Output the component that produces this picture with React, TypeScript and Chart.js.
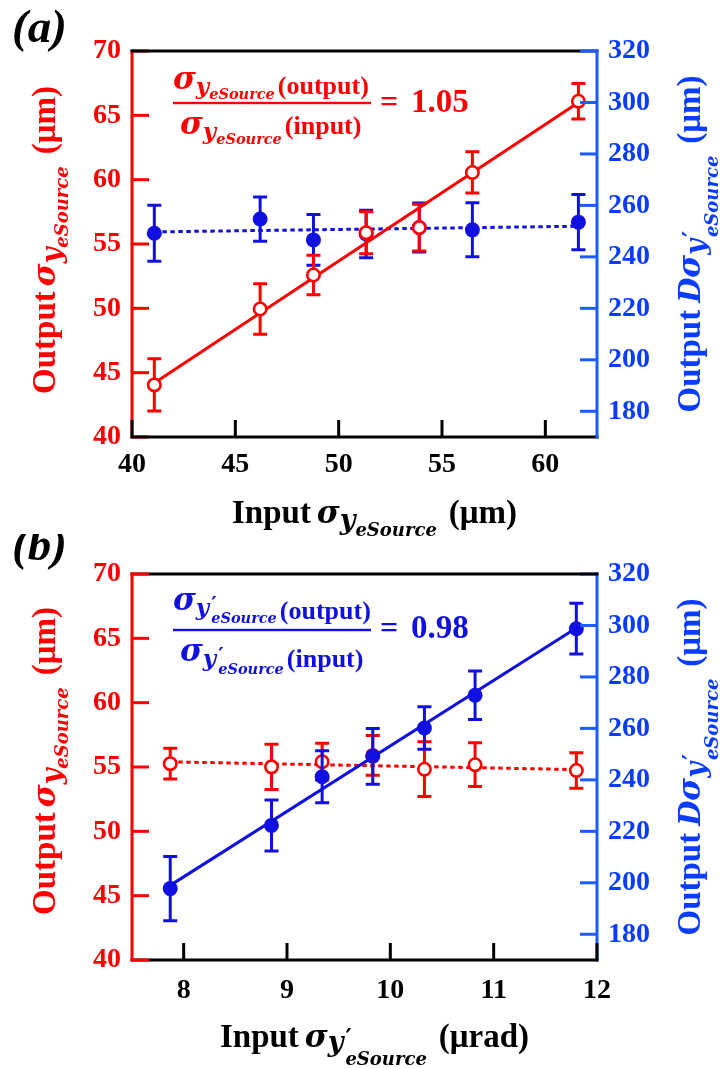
import React, { useEffect, useRef } from "react";
import { Chart, registerables } from "chart.js";

Chart.register(...registerables);

// ---------------- data: panel (a) ----------------
const inputA = [41.08, 46.2, 48.78, 51.33, 53.9, 56.47, 61.6];
const outSigmaA = [44.05, 49.95, 52.59, 55.88, 56.27, 60.56, 66.1];
const outSigmaErrA = [2.03, 1.97, 1.53, 1.63, 1.82, 1.6, 1.38];
const outDivA = [249.2, 254.7, 246.6, 248.9, 251.4, 250.5, 253.5];
const outDivErrA = [10.9, 8.6, 9.9, 9.2, 9.5, 10.5, 10.7];
const fitXA = [41.08, 61.6];
const fitSigmaA = [44.2, 66.0];
const fitDivA = [249.7, 251.9];
const xTicksA = [40, 45, 50, 55, 60];
const ratioA = "1.05";

// ---------------- data: panel (b) ----------------
const inputB = [7.87, 8.85, 9.34, 9.83, 10.33, 10.82, 11.8];
const outSigmaB = [55.26, 55.01, 55.41, 55.9, 54.83, 55.18, 54.73];
const outSigmaErrB = [1.2, 1.75, 1.43, 1.55, 2.13, 1.7, 1.38];
const outDivB = [197.75, 222.3, 241.2, 249.15, 260.15, 272.9, 298.75];
const outDivErrB = [12.45, 9.9, 10.1, 10.85, 8.25, 9.4, 9.85];
const fitXB = [7.87, 11.8];
const fitSigmaB = [55.4, 54.8];
const fitDivB = [199, 299];
const xTicksB = [8, 9, 10, 11, 12];
const ratioB = "0.98";

// ---------------- shared axes ----------------
const leftTicks = [40, 45, 50, 55, 60, 65, 70];
const rightTicks = [180, 200, 220, 240, 260, 280, 300, 320];
const leftRange = [40, 70];
const rightRange = [170, 320];

const SERIF = "'Liberation Serif','Times New Roman',serif";
const MATH = "'DejaVu Serif',serif";
const RED = "#ff0000";
const DATA_BLUE = "#1010e0";
const AXIS_BLUE = "#1a5cff";
const LABEL_BLUE = "#0a3cff";
const W = 725;

type Seg = { t: string; font: string; dy?: number; gap?: number; noAdvance?: boolean };

function segsWidth(ctx: CanvasRenderingContext2D, segs: Seg[]) {
  let w = 0;
  for (const s of segs) {
    ctx.font = s.font;
    if (s.noAdvance) continue;
    w += (s.gap || 0) + ctx.measureText(s.t).width;
  }
  return w;
}

function drawSegs(ctx: CanvasRenderingContext2D, segs: Seg[], x: number, y: number, color: string) {
  ctx.fillStyle = color;
  ctx.textBaseline = "alphabetic";
  ctx.textAlign = "left";
  let cx = x;
  for (const s of segs) {
    ctx.font = s.font;
    if (s.noAdvance) {
      ctx.fillText(s.t, cx + (s.gap || 0), y + (s.dy || 0));
      continue;
    }
    cx += s.gap || 0;
    ctx.fillText(s.t, cx, y + (s.dy || 0));
    cx += ctx.measureText(s.t).width;
  }
  return cx;
}

const F_MAIN = `bold 33px ${SERIF}`;
const F_SIG = `italic bold 31px ${MATH}`;
const F_SUB = `italic bold 27px ${MATH}`;
const F_SUBSUB = `italic bold 18px ${MATH}`;
const F_PRIME = `bold 24px ${MATH}`;

function sigmaSegs(prime: boolean, gapBefore: number, subDy: number, subsubDy: number): Seg[] {
  const s: Seg[] = [
    { t: "σ", font: F_SIG, gap: gapBefore },
    { t: "y", font: F_SUB, dy: subDy, gap: 0 },
  ];
  if (prime) s.push({ t: "′", font: F_PRIME, dy: subDy - 5, gap: 2, noAdvance: true });
  s.push({ t: "eSource", font: F_SUBSUB, dy: subsubDy, gap: prime ? 2 : 0 });
  return s;
}

interface PanelSpec {
  label: string;
  canvasH: number;
  xMin: number;
  xMax: number;
  xTicks: number[];
  x: number[];
  sig: number[];
  sigErr: number[];
  div: number[];
  divErr: number[];
  fitX: number[];
  fitSig: number[];
  fitDiv: number[];
  sigSolid: boolean;
  padTop: number;
  xAxisH: number;
  xLabelPad: number;
  prime: boolean;
  xUnit: string;
  ratio: string;
  ratioColor: string;
  labelBase: number;
  leftTitleCy: number;
  rightTitleCy: number;
  xTitleBase: number;
  numBase: number;
  numTxtDy: number;
  barY: number;
  denBase: number;
  denTxtDy: number;
  eqBase: number;
  leftOver: boolean;
}

const panelA: PanelSpec = {
  label: "(a)",
  canvasH: 560,
  xMin: 40,
  xMax: 62.5,
  xTicks: xTicksA,
  x: inputA,
  sig: outSigmaA,
  sigErr: outSigmaErrA,
  div: outDivA,
  divErr: outDivErrA,
  fitX: fitXA,
  fitSig: fitSigmaA,
  fitDiv: fitDivA,
  sigSolid: true,
  padTop: 51,
  xAxisH: 123,
  xLabelPad: 11,
  prime: false,
  xUnit: "(μm)",
  ratio: ratioA,
  ratioColor: RED,
  labelBase: 42,
  leftTitleCy: 240,
  rightTitleCy: 244,
  xTitleBase: 523,
  numBase: 89,
  numTxtDy: 5,
  barY: 103,
  denBase: 134,
  denTxtDy: 0,
  eqBase: 111.5,
  leftOver: false,
};

const panelB: PanelSpec = {
  label: "(b)",
  canvasH: 534,
  xMin: 7.5,
  xMax: 12,
  xTicks: xTicksB,
  x: inputB,
  sig: outSigmaB,
  sigErr: outSigmaErrB,
  div: outDivB,
  divErr: outDivErrB,
  fitX: fitXB,
  fitSig: fitSigmaB,
  fitDiv: fitDivB,
  sigSolid: false,
  padTop: 40,
  xAxisH: 108,
  xLabelPad: 14,
  prime: true,
  xUnit: "(μrad)",
  ratio: ratioB,
  ratioColor: DATA_BLUE,
  labelBase: 26,
  leftTitleCy: 227,
  rightTitleCy: 233,
  xTitleBase: 512.7,
  numBase: 76,
  numTxtDy: 9,
  barY: 96,
  denBase: 127,
  denTxtDy: 6,
  eqBase: 104.3,
  leftOver: true,
};

function makeChart(canvas: HTMLCanvasElement, p: PanelSpec) {
  const pts = (xs: number[], ys: number[]) => xs.map((x, i) => ({ x, y: ys[i] }));
  const DOT = [4.5, 3.5];

  const redPts: any = {
    label: "out sigma",
    data: pts(p.x, p.sig),
    yAxisID: "y",
    showLine: false,
    pointRadius: 6.2,
    pointHoverRadius: 6.2,
    pointBorderWidth: 2.6,
    pointBackgroundColor: "#ffffff",
    pointBorderColor: RED,
    errors: p.sigErr,
    errColor: RED,
  };
  const redFit: any = {
    label: "fit sigma",
    data: pts(p.fitX, p.fitSig),
    yAxisID: "y",
    showLine: true,
    pointRadius: 0,
    borderColor: RED,
    borderWidth: 3,
    borderDash: p.sigSolid ? [] : DOT,
  };
  const bluePts: any = {
    label: "out div",
    data: pts(p.x, p.div),
    yAxisID: "y1",
    showLine: false,
    pointRadius: 7.5,
    pointHoverRadius: 7.5,
    pointBorderWidth: 0,
    pointBackgroundColor: DATA_BLUE,
    pointBorderColor: DATA_BLUE,
    errors: p.divErr,
    errColor: DATA_BLUE,
  };
  const blueFit: any = {
    label: "fit div",
    data: pts(p.fitX, p.fitDiv),
    yAxisID: "y1",
    showLine: true,
    pointRadius: 0,
    borderColor: DATA_BLUE,
    borderWidth: 3,
    borderDash: p.sigSolid ? DOT : [],
  };
  const datasets = p.sigSolid ? [redPts, redFit, bluePts, blueFit] : [bluePts, blueFit, redPts, redFit];

  const tickFont = { family: SERIF, size: 28, weight: "bold" as const };

  const errorBars = {
    id: "errorBars",
    beforeDatasetDraw(chart: any, args: any) {
      const ds: any = chart.data.datasets[args.index];
      if (!ds.errors) return;
      const meta = chart.getDatasetMeta(args.index);
      const ys = chart.scales[meta.yAxisID];
      const xs = chart.scales.x;
      const ctx = chart.ctx;
      ctx.save();
      ctx.strokeStyle = ds.errColor;
      ctx.lineWidth = 3;
      ds.data.forEach((pt: any, i: number) => {
        const px = xs.getPixelForValue(pt.x);
        const yT = ys.getPixelForValue(pt.y + ds.errors[i]);
        const yB = ys.getPixelForValue(pt.y - ds.errors[i]);
        ctx.beginPath();
        ctx.moveTo(px, yT);
        ctx.lineTo(px, yB);
        ctx.moveTo(px - 7, yT);
        ctx.lineTo(px + 7, yT);
        ctx.moveTo(px - 7, yB);
        ctx.lineTo(px + 7, yB);
        ctx.stroke();
      });
      ctx.restore();
    },
  };

  const frame = {
    id: "frame",
    afterDatasetsDraw(chart: any) {
      const ctx: CanvasRenderingContext2D = chart.ctx;
      const { left, right, top, bottom } = chart.chartArea;
      const TL = 17;
      const line = (x1: number, y1: number, x2: number, y2: number, c: string) => {
        ctx.strokeStyle = c;
        ctx.lineWidth = 3;
        ctx.beginPath();
        ctx.moveTo(x1, y1);
        ctx.lineTo(x2, y2);
        ctx.stroke();
      };
      const drawLeft = () => {
        line(left, top - 1.5, left, bottom + 1.5, RED);
        for (const t of chart.scales.y.ticks) {
          const py = chart.scales.y.getPixelForValue(t.value);
          line(left, py, left + TL, py, RED);
        }
      };
      const drawRight = () => {
        line(right, top - 1.5, right, bottom + 1.5, AXIS_BLUE);
        const s = chart.scales.y1;
        for (const t of rightTicks) {
          const py = s.getPixelForValue(t);
          line(right - TL, py, right, py, AXIS_BLUE);
        }
      };
      const drawBlack = () => {
        line(left - 1.5, top, right + 1.5, top, "#000");
        line(left - 1.5, bottom, right + 1.5, bottom, "#000");
        for (const t of chart.scales.x.ticks) {
          const px = chart.scales.x.getPixelForValue(t.value);
          line(px, bottom, px, bottom - TL, "#000");
        }
      };
      ctx.save();
      ctx.lineCap = "butt";
      if (p.leftOver) {
        drawRight();
        drawBlack();
        drawLeft();
      } else {
        drawLeft();
        drawBlack();
        drawRight();
      }
      ctx.restore();
    },
    afterDraw(chart: any) {
      const ctx: CanvasRenderingContext2D = chart.ctx;
      ctx.save();
      // panel label
      ctx.font = `italic bold 47px ${SERIF}`;
      ctx.fillStyle = "#000";
      ctx.textBaseline = "alphabetic";
      ctx.fillText(p.label, 12, p.labelBase);

      // left title
      const leftSegs: Seg[] = [
        { t: "Output", font: F_MAIN },
        ...sigmaSegs(false, 5, 6, 13),
        { t: "(μm)", font: F_MAIN, gap: 12 },
      ];
      ctx.save();
      ctx.translate(55, p.leftTitleCy);
      ctx.rotate(-Math.PI / 2);
      let w = segsWidth(ctx, leftSegs);
      drawSegs(ctx, leftSegs, -w / 2, 0, RED);
      ctx.restore();

      // right title
      const rightSegs: Seg[] = [
        { t: "Output", font: F_MAIN },
        { t: "D", font: `italic bold 29px ${MATH}`, gap: 7 },
        ...sigmaSegs(true, 0, 5, 18),
        { t: "(μm)", font: F_MAIN, gap: 12 },
      ];
      ctx.save();
      ctx.translate(700, p.rightTitleCy);
      ctx.rotate(-Math.PI / 2);
      w = segsWidth(ctx, rightSegs);
      drawSegs(ctx, rightSegs, -w / 2, 0, LABEL_BLUE);
      ctx.restore();

      // x title
      const xSegs: Seg[] = [
        { t: "Input", font: F_MAIN },
        ...sigmaSegs(p.prime, 6, p.prime ? 4 : 6, p.prime ? 18 : 13),
        { t: p.xUnit, font: F_MAIN, gap: 12 },
      ];
      w = segsWidth(ctx, xSegs);
      drawSegs(ctx, xSegs, 374.5 - w / 2, p.xTitleBase, "#000");

      // annotation: ratio of output to input
      const A_SIG = `italic bold 31px ${MATH}`;
      const A_SUB = `italic bold 23px ${MATH}`;
      const A_SUBSUB = `italic bold 14.5px ${MATH}`;
      const A_TXT = `bold 26px ${SERIF}`;
      const frac = (base: number, txt: string, x0: number, txtDy: number) => {
        const segs: Seg[] = [
          { t: "σ", font: A_SIG },
          { t: "y", font: A_SUB, dy: 5, gap: 0 },
        ];
        if (p.prime) segs.push({ t: "′", font: `bold 21px ${MATH}`, dy: 1, gap: 2, noAdvance: true });
        segs.push({ t: "eSource", font: A_SUBSUB, dy: p.prime ? 13 : 10, gap: p.prime ? 2 : 0 });
        segs.push({ t: txt, font: A_TXT, gap: 3, dy: txtDy });
        drawSegs(ctx, segs, x0, base, p.ratioColor);
      };
      frac(p.numBase, "(output)", 173, p.numTxtDy);
      frac(p.denBase, "(input)", 180, p.denTxtDy);
      ctx.fillStyle = p.ratioColor;
      ctx.fillRect(173, p.barY - 1.2, 198, 2.4);
      ctx.font = `bold 32px ${SERIF}`;
      ctx.fillText("=", 380, p.eqBase);
      ctx.font = `bold 33px ${SERIF}`;
      ctx.fillText(p.ratio, 411, p.eqBase);
      ctx.restore();
    },
  };

  return new Chart(canvas, {
    type: "scatter",
    data: { datasets },
    options: {
      animation: false,
      responsive: false,
      maintainAspectRatio: false,
      devicePixelRatio: 1,
      layout: { padding: { top: p.padTop, left: 0, right: 0, bottom: 0 } },
      plugins: { legend: { display: false }, tooltip: { enabled: false } },
      scales: {
        x: {
          type: "linear",
          position: "bottom",
          min: p.xMin,
          max: p.xMax,
          grid: { display: false, drawTicks: false },
          border: { display: false },
          ticks: { color: "#000", font: tickFont, padding: p.xLabelPad, maxRotation: 0, autoSkip: false },
          afterBuildTicks: (s: any) => {
            s.ticks = p.xTicks.map((v) => ({ value: v }));
          },
          afterFit: (s: any) => {
            s.height = p.xAxisH;
          },
        },
        y: {
          type: "linear",
          position: "left",
          min: leftRange[0],
          max: leftRange[1],
          grid: { display: false, drawTicks: false },
          border: { display: false },
          ticks: { color: RED, font: tickFont, padding: 11, autoSkip: false },
          afterBuildTicks: (s: any) => {
            s.ticks = leftTicks.map((v) => ({ value: v }));
          },
          afterFit: (s: any) => {
            s.width = 132;
          },
        },
        y1: {
          type: "linear",
          position: "right",
          min: rightRange[0],
          max: rightRange[1],
          grid: { display: false, drawTicks: false },
          border: { display: false },
          ticks: { color: LABEL_BLUE, font: tickFont, padding: 11, autoSkip: false },
          afterBuildTicks: (s: any) => {
            s.ticks = rightTicks.map((v) => ({ value: v }));
          },
          afterFit: (s: any) => {
            s.width = 128;
          },
        },
      },
    } as any,
    plugins: [errorBars, frame],
  });
}

function Panel({ spec, top }: { spec: PanelSpec; top: number }) {
  const ref = useRef<HTMLCanvasElement>(null);
  useEffect(() => {
    if (!ref.current) return;
    const chart = makeChart(ref.current, spec);
    return () => chart.destroy();
  }, [spec]);
  return (
    <canvas
      ref={ref}
      width={W}
      height={spec.canvasH}
      style={{ position: "absolute", left: 0, top, width: W, height: spec.canvasH, display: "block" }}
    />
  );
}

export default function App() {
  return (
    <div style={{ position: "absolute", left: 0, top: 0, width: W, height: 1068, background: "#fff", overflow: "hidden" }}>
      <Panel spec={panelA} top={0} />
      <Panel spec={panelB} top={534} />
    </div>
  );
}
